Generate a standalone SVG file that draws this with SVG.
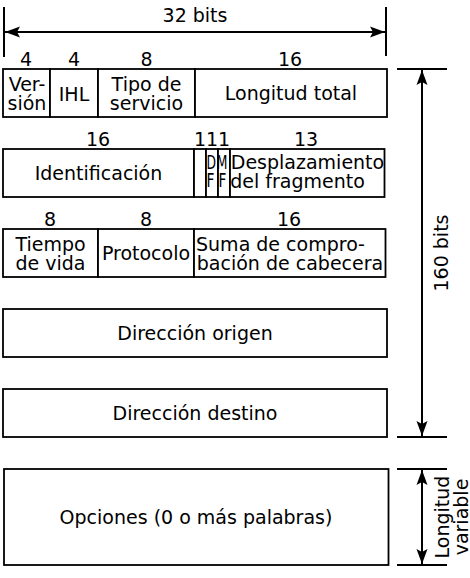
<svg xmlns="http://www.w3.org/2000/svg" width="470" height="578" viewBox="0 0 470 578">
<style>
.b{fill:#fff;stroke:#000;stroke-width:1.8}
.l{fill:none;stroke:#000;stroke-width:2}
text{font-family:"DejaVu Sans","Liberation Sans",sans-serif;font-size:19px;fill:#000;text-anchor:middle}
.fl{text-anchor:start}
</style>
<defs>
<marker id="ah" viewBox="-16 -6 17 12" refX="0" refY="0" markerWidth="17" markerHeight="12" markerUnits="userSpaceOnUse" orient="auto-start-reverse">
<path d="M0,0 L-15,-5.5 L-12,0 L-15,5.5 z" fill="#000"/>
</marker>
</defs>
<rect width="470" height="578" fill="#fff"/>

<g id="connectors">
<line class="l" x1="4" y1="7" x2="4" y2="57"/>
<line class="l" x1="386" y1="7" x2="386" y2="56"/>
<line class="l" x1="5" y1="32" x2="385" y2="32" marker-start="url(#ah)" marker-end="url(#ah)"/>
<line class="l" x1="397" y1="69" x2="447" y2="69"/>
<line class="l" x1="397" y1="437" x2="447" y2="437"/>
<line class="l" x1="422" y1="70" x2="422" y2="436" marker-start="url(#ah)" marker-end="url(#ah)"/>
<line class="l" x1="397" y1="469" x2="447" y2="469"/>
<line class="l" x1="397" y1="565" x2="447" y2="565"/>
<line class="l" x1="422" y1="470" x2="422" y2="564" marker-start="url(#ah)" marker-end="url(#ah)"/>
</g>

<g id="labels">
<text x="195" y="22">32 bits</text>
<text transform="translate(448,253) rotate(-90)">160 bits</text>
<text transform="translate(448.5,517) rotate(-90)">Longitud</text>
<text transform="translate(467.5,517) rotate(-90)">variable</text>
<text x="26" y="66">4</text>
<text x="74" y="66">4</text>
<text x="146.5" y="66">8</text>
<text x="290" y="66">16</text>
<text x="98" y="146">16</text>
<text x="200" y="146">1</text>
<text x="212" y="146">1</text>
<text x="224" y="146">1</text>
<text x="306" y="146">13</text>
<text x="50" y="226">8</text>
<text x="146" y="226">8</text>
<text x="289" y="226">16</text>
</g>

<g id="version">
<rect class="b" x="3" y="69" width="47" height="48"/>
<text x="27" y="90.5">Ver-</text>
<text x="27" y="109.5">sión</text>
</g>
<g id="ihl">
<rect class="b" x="50" y="69" width="48" height="48"/>
<text x="74" y="100.5">IHL</text>
</g>
<g id="tipo-servicio">
<rect class="b" x="98" y="69" width="97" height="48"/>
<text x="146.5" y="90.5">Tipo de</text>
<text x="146.5" y="109.5">servicio</text>
</g>
<g id="longitud-total">
<rect class="b" x="195" y="69" width="192" height="48"/>
<text x="291" y="100">Longitud total</text>
</g>

<g id="identificacion">
<rect class="b" x="3" y="149" width="191" height="48"/>
<text x="98.5" y="180">Identificación</text>
</g>
<g id="reservado">
<rect class="b" x="194" y="149" width="12" height="48"/>
</g>
<g id="df">
<rect class="b" x="206" y="149" width="12" height="48"/>
<text class="fl" transform="translate(206.5,169) scale(0.65,1)">D</text>
<text class="fl" transform="translate(206.5,187) scale(0.72,1)">F</text>
</g>
<g id="mf">
<rect class="b" x="218" y="149" width="12" height="48"/>
<text class="fl" transform="translate(216.5,169) scale(0.67,1)">M</text>
<text class="fl" transform="translate(218.5,187) scale(0.72,1)">F</text>
</g>
<g id="desplazamiento">
<rect class="b" x="230" y="149" width="154.5" height="48"/>
<text x="307.5" y="169">Desplazamiento</text>
<text x="297.5" y="188">del fragmento</text>
</g>

<g id="tiempo-vida">
<rect class="b" x="3" y="229" width="95" height="48"/>
<text x="50.5" y="250.5">Tiempo</text>
<text x="50.5" y="269.5">de vida</text>
</g>
<g id="protocolo">
<rect class="b" x="98" y="229" width="96" height="48"/>
<text x="146" y="260">Protocolo</text>
</g>
<g id="suma">
<rect class="b" x="194" y="229" width="191.5" height="48"/>
<text x="280.5" y="250.5">Suma de compro-</text>
<text x="290" y="269.5">bación de cabecera</text>
</g>

<g id="direccion-origen">
<rect class="b" x="3" y="309" width="384" height="48"/>
<text x="195" y="340">Dirección origen</text>
</g>
<g id="direccion-destino">
<rect class="b" x="3" y="389" width="384" height="48"/>
<text x="195" y="420">Dirección destino</text>
</g>
<g id="opciones">
<rect class="b" x="4" y="469" width="384.5" height="96"/>
<text x="196" y="524">Opciones (0 o más palabras)</text>
</g>
</svg>
